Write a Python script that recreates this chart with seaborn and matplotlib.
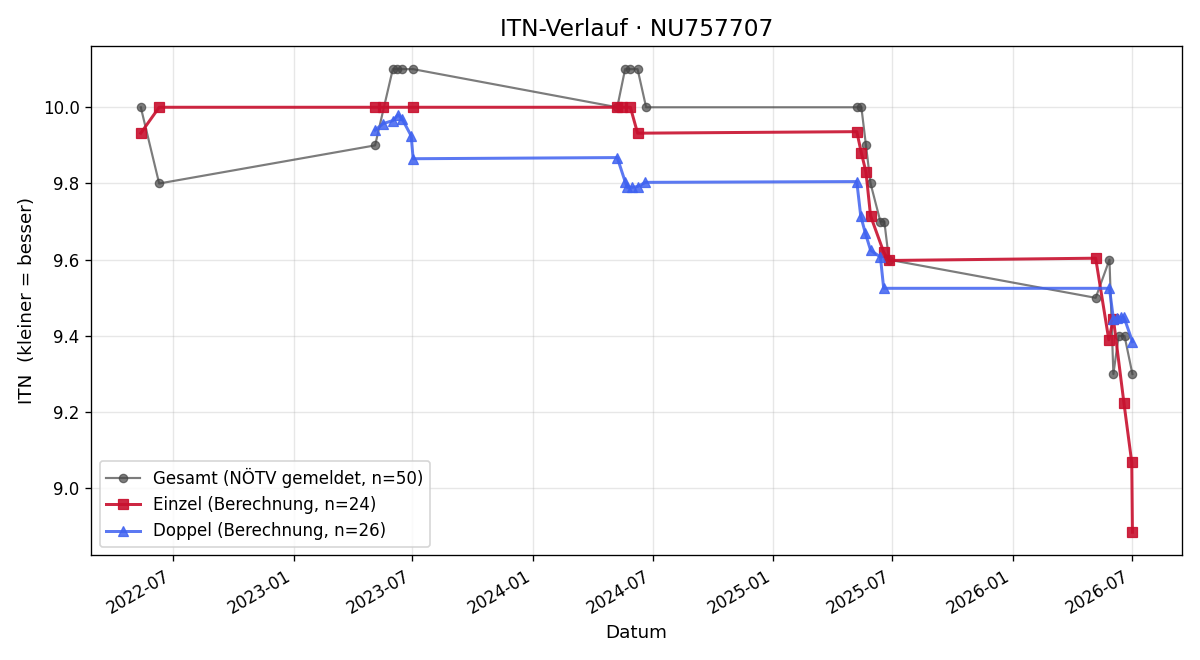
import pandas as pd
import seaborn as sns
import matplotlib.pyplot as plt
import matplotlib.dates as mdates

# Gesamt (NÖTV gemeldet)
gesamt_dates = ["2022-05-13", "2022-06-10", "2023-05-05", "2023-06-01", "2023-06-07",
                "2023-06-15", "2023-07-02", "2024-05-08", "2024-05-20", "2024-05-28",
                "2024-06-08", "2024-06-21", "2025-05-08", "2025-05-15", "2025-05-22",
                "2025-05-29", "2025-06-13", "2025-06-19", "2025-06-26", "2026-05-07",
                "2026-05-28", "2026-06-03", "2026-06-11", "2026-06-20", "2026-07-02"]
gesamt_itn = [10.0, 9.8, 9.9, 10.1, 10.1,
              10.1, 10.1, 10.0, 10.1, 10.1,
              10.1, 10.0, 10.0, 10.0, 9.9,
              9.8, 9.7, 9.7, 9.6, 9.5,
              9.6, 9.3, 9.4, 9.4, 9.3]

# Einzel (Berechnung)
einzel_dates = ["2022-05-13", "2022-06-10", "2023-05-05", "2023-05-17", "2023-07-02",
                "2024-05-08", "2024-05-16", "2024-05-28", "2024-06-08", "2025-05-08",
                "2025-05-15", "2025-05-22", "2025-05-29", "2025-06-18", "2025-06-26",
                "2026-05-07", "2026-05-27", "2026-06-03", "2026-06-19", "2026-07-01",
                "2026-07-02"]
einzel_itn = [9.932, 10.0, 10.0, 10.0, 10.0,
              10.0, 10.0, 10.0, 9.932, 9.936,
              9.88, 9.83, 9.715, 9.62, 9.598,
              9.604, 9.39, 9.445, 9.225, 9.068,
              8.885]

# Doppel (Berechnung)
doppel_dates = ["2023-05-05", "2023-05-17", "2023-06-01", "2023-06-09", "2023-06-15",
                "2023-06-29", "2023-07-02", "2024-05-08", "2024-05-20", "2024-05-23",
                "2024-05-31", "2024-06-08", "2024-06-20", "2025-05-08", "2025-05-14",
                "2025-05-21", "2025-05-29", "2025-06-13", "2025-06-18", "2026-05-28",
                "2026-06-03", "2026-06-09", "2026-06-14", "2026-06-19", "2026-07-02"]
doppel_itn = [9.94, 9.957, 9.965, 9.98, 9.97,
              9.925, 9.865, 9.868, 9.805, 9.79,
              9.79, 9.792, 9.803, 9.805, 9.715,
              9.67, 9.625, 9.607, 9.525, 9.525,
              9.445, 9.447, 9.45, 9.45, 9.385]

df_g = pd.DataFrame({"Datum": pd.to_datetime(gesamt_dates), "ITN": gesamt_itn})
df_e = pd.DataFrame({"Datum": pd.to_datetime(einzel_dates), "ITN": einzel_itn})
df_d = pd.DataFrame({"Datum": pd.to_datetime(doppel_dates), "ITN": doppel_itn})

fig, ax = plt.subplots(figsize=(10, 5.5), dpi=120)

sns.lineplot(data=df_g, x="Datum", y="ITN", ax=ax, estimator=None, sort=False,
             color="#444444", alpha=0.7, linewidth=1.3, marker="o", markersize=5,
             markeredgecolor="#444444", label="Gesamt (NÖTV gemeldet, n=50)")
sns.lineplot(data=df_e, x="Datum", y="ITN", ax=ax, estimator=None, sort=False,
             color="#c8102e", alpha=0.9, linewidth=1.8, marker="s", markersize=6,
             markeredgecolor="#c8102e", label="Einzel (Berechnung, n=24)")
sns.lineplot(data=df_d, x="Datum", y="ITN", ax=ax, estimator=None, sort=False,
             color="#3f62f0", alpha=0.85, linewidth=1.8, marker="^", markersize=6,
             markeredgecolor="#3f62f0", label="Doppel (Berechnung, n=26)")

ax.set_title("ITN-Verlauf · NU757707", fontsize=14)
ax.set_xlabel("Datum", fontsize=11)
ax.set_ylabel("ITN  (kleiner = besser)", fontsize=11)
ax.grid(True, alpha=0.3)
ax.xaxis.set_major_formatter(mdates.DateFormatter("%Y-%m"))
ax.legend(loc="lower left")
fig.autofmt_xdate()

plt.tight_layout()
plt.savefig("out.png", dpi=120)
